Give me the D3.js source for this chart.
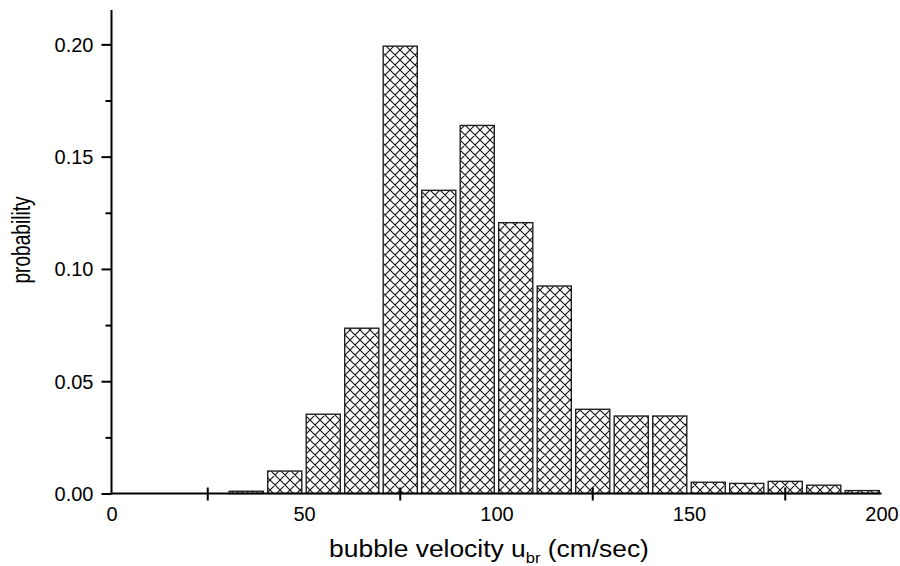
<!DOCTYPE html>
<html>
<head>
<meta charset="utf-8">
<script src="https://cdn.jsdelivr.net/npm/d3@7"></script>
<style>
  html, body { margin: 0; padding: 0; background: #fff; }
  svg { display: block; }
  text { font-family: "Liberation Sans", Arial, Helvetica, sans-serif; fill: #000; }
</style>
</head>
<body>
<svg id="chart" width="900" height="566"></svg>
<script>
// Histogram of bubble rise velocity: bin lower edges (cm/sec) and probability per bin
const binStarts = [30, 40, 50, 60, 70, 80, 90, 100, 110, 120, 130, 140, 150, 160, 170, 180, 190];
const binWidth = 10;
const probabilities = [0.001, 0.010, 0.0353, 0.0736, 0.1992, 0.135, 0.1639, 0.1206, 0.0924,
                       0.0375, 0.0345, 0.0345, 0.0050, 0.0045, 0.0054, 0.0037, 0.0013];

const xMajorTicks = [0, 50, 100, 150, 200];
const xMinorTicks = [25, 75, 125, 175];
const yMajorTicks = [0, 0.05, 0.10, 0.15, 0.20];
const yMinorTicks = [0.025, 0.075, 0.125, 0.175];

const svg = d3.select("#chart");

const x = d3.scaleLinear().domain([0, 200]).range([111.5, 881.5]);
const y = d3.scaleLinear().domain([0, 0.2153]).range([493.5, 10]);

// Cross-hatch fill
const defs = svg.append("defs");
const pat = defs.append("pattern")
  .attr("id", "xhatch")
  .attr("patternUnits", "userSpaceOnUse")
  .attr("width", 10).attr("height", 10);
pat.append("rect").attr("width", 10).attr("height", 10).attr("fill", "#fff");
pat.append("path")
  .attr("d", "M0,0L10,10M10,0L0,10M-1,9L1,11M9,-1L11,1M-1,1L1,-1M9,11L11,9")
  .attr("stroke", "#111")
  .attr("stroke-width", 1.1)
  .attr("fill", "none");

const bins = binStarts.map((s, i) => ({ x0: s, x1: s + binWidth, p: probabilities[i] }));
const inset = 2.2;

svg.append("g")
  .selectAll("rect")
  .data(bins)
  .join("rect")
  .attr("x", d => x(d.x0) + inset)
  .attr("width", d => x(d.x1) - x(d.x0) - 2 * inset)
  .attr("y", d => y(d.p))
  .attr("height", d => y(0) - y(d.p))
  .attr("fill", "url(#xhatch)")
  .attr("stroke", "#222")
  .attr("stroke-width", 1.4);

// Y axis
const yAxis = d3.axisLeft(y)
  .tickValues(yMajorTicks)
  .tickFormat(d3.format(".2f"))
  .tickSize(10)
  .tickPadding(8);
const gy = svg.append("g").attr("transform", `translate(${x(0)},0)`).call(yAxis);
gy.select(".domain").remove();
gy.selectAll(".tick line").attr("stroke", "#000").attr("stroke-width", 2);
gy.selectAll(".tick text").attr("font-size", 20).attr("dy", "0.35em")
  .style("font-family", "'Liberation Sans', Arial, sans-serif");

const yMinor = d3.axisLeft(y).tickValues(yMinorTicks).tickFormat("").tickSize(6);
const gym = svg.append("g").attr("transform", `translate(${x(0)},0)`).call(yMinor);
gym.select(".domain").remove();
gym.selectAll(".tick line").attr("stroke", "#000").attr("stroke-width", 2);

svg.append("line")
  .attr("x1", x(0)).attr("x2", x(0))
  .attr("y1", y.range()[1]).attr("y2", y(0) + 1)
  .attr("stroke", "#000").attr("stroke-width", 2);

// X axis
const xAxis = d3.axisBottom(x)
  .tickValues(xMajorTicks)
  .tickSize(0)
  .tickPadding(13);
const gx = svg.append("g").attr("transform", `translate(0,${y(0)})`).call(xAxis);
gx.select(".domain").remove();
gx.selectAll(".tick text").attr("font-size", 20)
  .style("font-family", "'Liberation Sans', Arial, sans-serif");

svg.append("line")
  .attr("x1", x(0) - 1).attr("x2", x(200))
  .attr("y1", y(0)).attr("y2", y(0))
  .attr("stroke", "#000").attr("stroke-width", 2);

// Minor x ticks crossing the axis
svg.append("g")
  .selectAll("line")
  .data(xMinorTicks)
  .join("line")
  .attr("x1", d => x(d)).attr("x2", d => x(d))
  .attr("y1", y(0) - 6).attr("y2", y(0) + 7)
  .attr("stroke", "#000").attr("stroke-width", 2);

// Axis titles
const xt = svg.append("text")
  .attr("transform", "translate(489,557) scale(1.1,1)")
  .attr("text-anchor", "middle")
  .attr("font-size", 24);
xt.append("tspan").text("bubble velocity u");
xt.append("tspan").attr("font-size", 15).attr("dy", 6).text("br");
xt.append("tspan").attr("dy", -6).text(" (cm/sec)");

svg.append("text")
  .attr("transform", "translate(30,240) rotate(-90)")
  .attr("text-anchor", "middle")
  .attr("font-size", 25)
  .attr("textLength", 87)
  .attr("lengthAdjust", "spacingAndGlyphs")
  .text("probability");
</script>
</body>
</html>
